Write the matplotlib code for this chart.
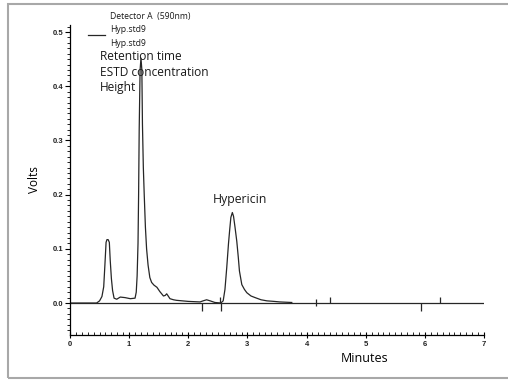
import matplotlib
matplotlib.use("Agg")
import matplotlib.pyplot as plt
from matplotlib.patches import Rectangle
from matplotlib.ticker import MultipleLocator

# chromatogram trace (minutes, volts)
time_min = [0.0, 0.45, 0.5, 0.54, 0.57, 0.59, 0.61, 0.625, 0.645, 0.665,
            0.68, 0.70, 0.72, 0.745, 0.79, 0.85, 0.93, 1.02, 1.10, 1.12,
            1.135, 1.15, 1.16, 1.17, 1.185, 1.20, 1.215, 1.225, 1.24, 1.255,
            1.275, 1.295, 1.32, 1.35, 1.38, 1.42, 1.47, 1.52, 1.58, 1.61,
            1.635, 1.66, 1.69, 1.75, 1.8, 1.9, 2.0, 2.2, 2.25, 2.31,
            2.37, 2.45, 2.55, 2.59, 2.62, 2.65, 2.68, 2.70, 2.72, 2.745,
            2.765, 2.79, 2.82, 2.845, 2.865, 2.905, 2.95, 2.99, 3.06, 3.13,
            3.23, 3.33, 3.45, 3.55, 3.75]
volts = [0.0, 0.0, 0.004, 0.012, 0.03, 0.07, 0.112, 0.117, 0.117, 0.112,
         0.079, 0.045, 0.023, 0.009, 0.007, 0.011, 0.010, 0.008, 0.009, 0.02,
         0.05, 0.11, 0.2, 0.32, 0.43, 0.452, 0.43, 0.33, 0.25, 0.2,
         0.14, 0.10, 0.07, 0.047, 0.038, 0.033, 0.029, 0.021, 0.013, 0.014,
         0.017, 0.013, 0.008, 0.006, 0.005, 0.004, 0.003, 0.002, 0.004, 0.006,
         0.004, 0.001, 0.0, 0.004, 0.025, 0.065, 0.11, 0.135, 0.158, 0.167,
         0.16, 0.14, 0.114, 0.085, 0.059, 0.034, 0.025, 0.019, 0.013, 0.010,
         0.006, 0.004, 0.003, 0.002, 0.001]

# baseline drawn across the run
baseline_t = [0.0, 7.0]
baseline_v = [0.0, 0.0]

# integration event marks: time, and end of the mark (positive = up)
event_t = [2.23, 2.53, 2.55, 4.16, 4.16, 4.40, 5.94, 6.26]
event_v = [-0.014, 0.012, -0.014, 0.008, -0.006, 0.012, -0.014, 0.012]

W, H = 508, 380
fig = plt.figure(figsize=(W / 100, H / 100), dpi=100)
fig.patch.set_facecolor("white")

# grey frame around the picture
fig.patches.append(Rectangle((8 / W, 1 - 378 / H), 1.0, (378 - 4) / H,
                             transform=fig.transFigure, fill=False,
                             edgecolor="#a8a8a8", linewidth=1.5))

ax = fig.add_axes([70 / W, 1 - 335 / H, (484 - 70) / W, (335 - 25) / H])
line_c = "#262626"
ax.plot(baseline_t, baseline_v, color=line_c, lw=0.9)
ax.plot(time_min, volts, color=line_c, lw=0.9)
ax.vlines(event_t, 0, event_v, color=line_c, lw=0.9)

ax.set_xlim(0, 7)
ax.set_ylim(-0.059, 0.513)
for s in ("top", "right"):
    ax.spines[s].set_visible(False)
ax.spines["left"].set_linewidth(0.9)
ax.spines["bottom"].set_linewidth(0.9)

ax.xaxis.set_major_locator(MultipleLocator(1))
ax.xaxis.set_minor_locator(MultipleLocator(0.1))
ax.yaxis.set_major_locator(MultipleLocator(0.1))
ax.yaxis.set_minor_locator(MultipleLocator(0.01))
ax.yaxis.set_major_formatter(lambda v, p: f"{v:.1f}")
ax.xaxis.set_major_formatter(lambda v, p: f"{v:.0f}")

tick_font = dict(family="Liberation Sans", size=5.5, weight="bold")
ax.tick_params(axis="x", which="major", direction="inout", length=5, width=0.8, pad=2)
ax.tick_params(axis="x", which="minor", direction="in", length=2.5, width=0.6)
ax.tick_params(axis="y", which="major", direction="out", length=3.5, width=0.8, pad=1.5)
ax.tick_params(axis="y", which="minor", direction="out", length=2, width=0.6)
for lab in ax.get_xticklabels() + ax.get_yticklabels():
    lab.set_fontproperties(tick_font)
    lab.set_color("#222222")

ax.set_ylabel("Volts", family="Open Sans", fontsize=8.5, labelpad=8)
ax.set_xlabel("Minutes", family="Open Sans", fontsize=9, labelpad=4)
ax.xaxis.set_label_coords(0.712, -0.055)


def px_text(x, y, s, size, **kw):
    fig.text(x / W, 1 - y / H, s, fontsize=size, family="Open Sans",
             va="center", ha="left", color="#1a1a1a", **kw)


# legend block
px_text(110, 16, "Detector A  (590nm)", 6.2)
px_text(110, 30, "Hyp.std9", 6.2)
px_text(110, 43, "Hyp.std9", 6.2)
fig.add_artist(plt.Line2D([88 / W, 105 / W], [1 - 35 / H, 1 - 35 / H],
                          color=line_c, lw=0.9))
px_text(100, 56, "Retention time", 8.6)
px_text(100, 72, "ESTD concentration", 8.6)
px_text(100, 88, "Height", 8.6)

ax.annotate("Hypericin", xy=(2.745, 0.167), xytext=(5.8, 4.5),
            textcoords="offset points", ha="center", va="bottom",
            family="Open Sans", fontsize=8.8, color="#1a1a1a")

fig.savefig("out.png", dpi=100)
